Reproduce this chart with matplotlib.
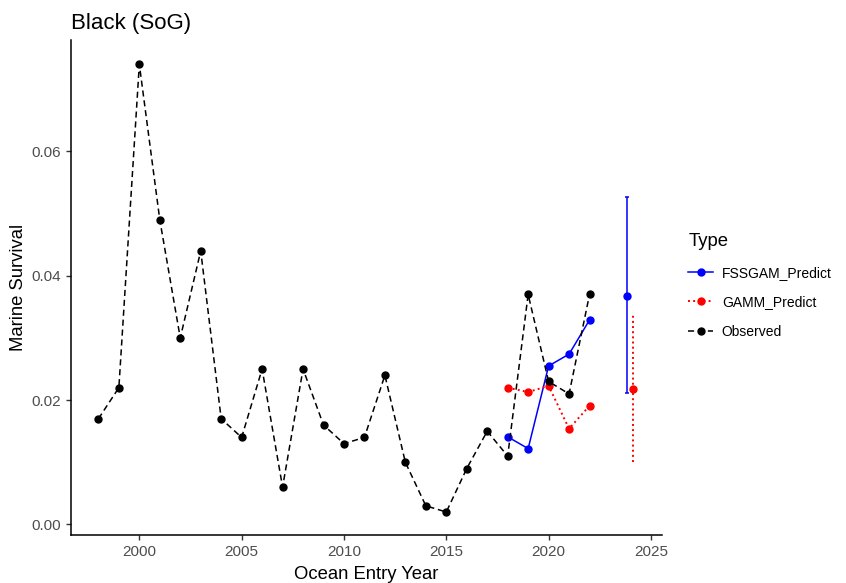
import matplotlib
matplotlib.use("Agg")
import matplotlib.pyplot as plt

plt.rcParams['font.family'] = ['Liberation Sans', 'DejaVu Sans']

# observed marine survival
obs_years = [1998, 1999, 2000, 2001, 2002, 2003, 2004, 2005, 2006, 2007, 2008,
             2009, 2010, 2011, 2012, 2013, 2014, 2015, 2016, 2017, 2018, 2019,
             2020, 2021, 2022]
obs_vals = [0.017, 0.022, 0.074, 0.049, 0.030, 0.044, 0.017, 0.014, 0.025, 0.006,
            0.025, 0.016, 0.013, 0.014, 0.024, 0.010, 0.003, 0.002, 0.009, 0.015,
            0.011, 0.037, 0.023, 0.021, 0.037]

# model hindcasts
pred_years = [2018, 2019, 2020, 2021, 2022]
fssgam_vals = [0.0141, 0.0122, 0.0255, 0.0274, 0.0329]
gamm_vals = [0.0220, 0.0213, 0.0223, 0.0154, 0.0191]

# 2024 forecasts with intervals
fc_year_fssgam = 2023.85
fc_year_gamm = 2024.1
fc_fssgam = 0.0367
fc_fssgam_lo, fc_fssgam_hi = 0.0211, 0.0527
fc_gamm = 0.0218
fc_gamm_lo, fc_gamm_hi = 0.0101, 0.0337

fig = plt.figure(figsize=(8.46, 5.83), dpi=100)
ax = fig.add_axes([0.0839, 0.0823, 0.782 - 0.0839, 0.931 - 0.0823])

lw = 1.1
ms = 5

ax.plot(pred_years, fssgam_vals, color="#0000FF", linestyle='-', linewidth=lw,
        marker='o', markersize=ms, label="FSSGAM_Predict")
ax.plot(pred_years, gamm_vals, color="#FF0000", linestyle=':', linewidth=lw + 0.3,
        marker='o', markersize=ms, label="GAMM_Predict")
ax.plot(obs_years, obs_vals, color="black", linestyle=(0, (4, 2.5)), linewidth=lw,
        marker='o', markersize=ms, label="Observed")

eb = ax.errorbar([fc_year_fssgam], [fc_fssgam],
                 yerr=[[fc_fssgam - fc_fssgam_lo], [fc_fssgam_hi - fc_fssgam]],
                 fmt='o', color="#0000FF", markersize=ms, elinewidth=lw,
                 capsize=1.5, capthick=lw)
eb2 = ax.errorbar([fc_year_gamm], [fc_gamm],
                  yerr=[[fc_gamm - fc_gamm_lo], [fc_gamm_hi - fc_gamm]],
                  fmt='o', color="#FF0000", markersize=ms, elinewidth=lw + 0.3,
                  capsize=0)
eb2[2][0].set_linestyle(':')

ax.set_xlim(1996.66, 2025.52)
ax.set_ylim(-0.0017, 0.0779)
ax.set_xticks([2000, 2005, 2010, 2015, 2020, 2025])
ax.set_yticks([0.0, 0.02, 0.04, 0.06])
ax.set_yticklabels(["0.00", "0.02", "0.04", "0.06"])

for s in ['top', 'right']:
    ax.spines[s].set_visible(False)
for s in ['left', 'bottom']:
    ax.spines[s].set_linewidth(1.1)
ax.tick_params(axis='both', colors="#333333", labelcolor="#4D4D4D",
               labelsize=11, length=3.5, width=1)

ax.set_xlabel("Ocean Entry Year", fontsize=13.3, labelpad=5)
ax.set_ylabel("Marine Survival", fontsize=13.3, labelpad=3)
ax.set_title("Black (SoG)", fontsize=16, loc='left', pad=8)

leg = ax.legend(loc='upper left', bbox_to_anchor=(0.799, 0.622),
                bbox_transform=fig.transFigure, frameon=False, title="Type",
                fontsize=10, title_fontsize=13.3, handlelength=1.8,
                handletextpad=0.6, labelspacing=1.13, alignment='left')

fig.savefig("out.png", dpi=100)
